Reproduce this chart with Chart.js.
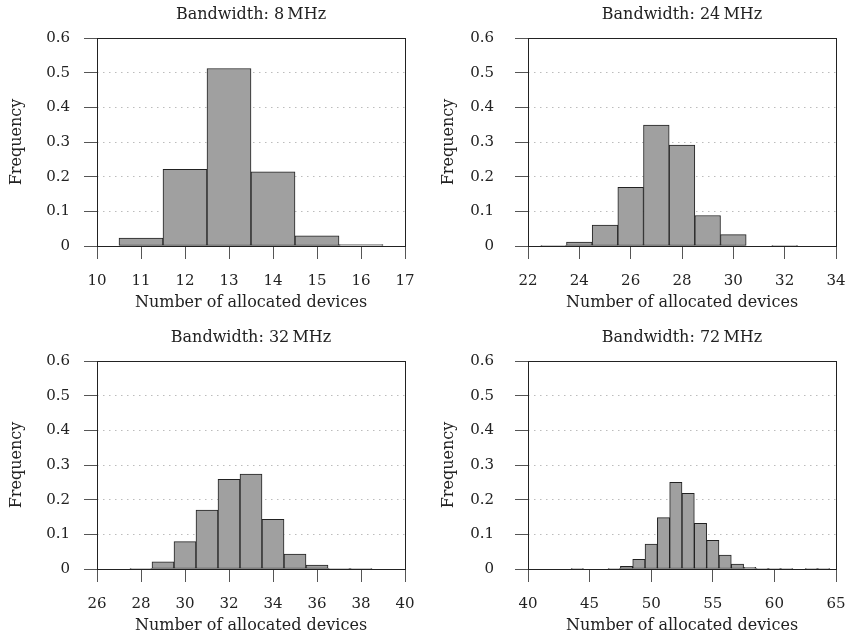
<!DOCTYPE html>
<html>
<head>
<meta charset="utf-8">
<title>Allocated devices per bandwidth</title>
<script src="https://cdn.jsdelivr.net/npm/chart.js@4.4.1/dist/chart.umd.min.js"></script>
<style>
  html, body { margin: 0; padding: 0; background: #fff; }
  #wrap { position: relative; width: 846px; height: 642px; }
  .panel { position: absolute; width: 423px; height: 321px; }
</style>
</head>
<body>
<div id="wrap">
  <div class="panel" style="left:0;top:0"><canvas id="c8" width="423" height="321"></canvas></div>
  <div class="panel" style="left:423px;top:0"><canvas id="c24" width="423" height="321"></canvas></div>
  <div class="panel" style="left:0;top:321px"><canvas id="c32" width="423" height="321"></canvas></div>
  <div class="panel" style="left:423px;top:321px"><canvas id="c72" width="423" height="321"></canvas></div>
</div>
<script>
// ── Data ──────────────────────────────────────────────────────
const bins8  = [11, 12, 13, 14, 15, 16];
const freq8  = [0.023, 0.221, 0.512, 0.214, 0.029, 0.004];
const xTicks8 = [10, 11, 12, 13, 14, 15, 16, 17];

const bins24 = [23, 24, 25, 26, 27, 28, 29, 30, 32];
const freq24 = [0.001, 0.011, 0.060, 0.169, 0.349, 0.291, 0.088, 0.033, 0.001];
const xTicks24 = [22, 24, 26, 28, 30, 32, 34];

const bins32 = [28, 29, 30, 31, 32, 33, 34, 35, 36, 37, 38];
const freq32 = [0.002, 0.021, 0.079, 0.170, 0.259, 0.274, 0.143, 0.043, 0.011, 0.001, 0.001];
const xTicks32 = [26, 28, 30, 32, 34, 36, 38, 40];

const bins72 = [44, 47, 48, 49, 50, 51, 52, 53, 54, 55, 56, 57, 58, 59, 60, 61, 63, 64];
const freq72 = [0.001, 0.002, 0.008, 0.028, 0.072, 0.148, 0.250, 0.218, 0.132, 0.083, 0.040, 0.014, 0.005, 0.001, 0.001, 0.001, 0.001, 0.001];
const xTicks72 = [40, 45, 50, 55, 60, 65];

const yTicks = [0, 0.1, 0.2, 0.3, 0.4, 0.5, 0.6];

const X_TITLE = 'Number of allocated devices';
const Y_TITLE = 'Frequency';

// ── Layout per panel (plot box edges inside each 423x321 canvas) ──
const PANELS = [
  { id: 'c8',  title: 'Bandwidth: 8\u2009MHz',  bins: bins8,  freq: freq8,  xTicks: xTicks8,
    left: 97,  right: 18, top: 38, bottom: 246, titleY: 15,   yTitleX: 17, yPad: 14, xTitleY: 303 },
  { id: 'c24', title: 'Bandwidth: 24\u2009MHz', bins: bins24, freq: freq24, xTicks: xTicks24,
    left: 105, right: 10, top: 38, bottom: 246, titleY: 15,   yTitleX: 26, yPad: 21, xTitleY: 303 },
  { id: 'c32', title: 'Bandwidth: 32\u2009MHz', bins: bins32, freq: freq32, xTicks: xTicks32,
    left: 97,  right: 18, top: 40, bottom: 248, titleY: 17,   yTitleX: 17, yPad: 14, xTitleY: 305 },
  { id: 'c72', title: 'Bandwidth: 72\u2009MHz', bins: bins72, freq: freq72, xTicks: xTicks72,
    left: 105, right: 10, top: 40, bottom: 248, titleY: 17,   yTitleX: 26, yPad: 21, xTitleY: 305 },
];

Chart.defaults.font.family = '"DejaVu Serif", "Liberation Serif", serif';
Chart.defaults.color = '#222';

const INK = '#222';
const TICK = '#555';
const LH = 16 * 1.2;

// draws the closed box round the plot area
const framePlugin = {
  id: 'frame',
  afterDraw(chart) {
    const { ctx, chartArea: a } = chart;
    const l = Math.round(a.left) + 0.5, t = Math.round(a.top) + 0.5;
    const r = Math.round(a.right) + 0.5, b = Math.round(a.bottom) + 0.5;
    ctx.save();
    ctx.strokeStyle = INK;
    ctx.lineWidth = 1;
    ctx.strokeRect(l, t, r - l, b - t);
    ctx.restore();
  }
};

function makeChart(p) {
  const ctx = document.getElementById(p.id).getContext('2d');
  return new Chart(ctx, {
    type: 'bar',
    data: {
      datasets: [{
        data: p.bins.map((b, i) => ({ x: b, y: p.freq[i] })),
        backgroundColor: '#a0a0a0',
        borderColor: INK,
        borderWidth: 1,
        borderSkipped: false,
        barPercentage: 1,
        categoryPercentage: 1,
      }]
    },
    options: {
      responsive: false,
      animation: false,
      layout: { padding: { left: 0, right: p.right, top: 0, bottom: 0 } },
      plugins: {
        legend: { display: false },
        tooltip: { enabled: false },
        title: {
          display: true, text: p.title, fullSize: false, color: INK,
          font: { size: 16, weight: 'normal' },
          padding: { top: p.titleY - LH / 2, bottom: p.top - (p.titleY - LH / 2) - LH },
        },
      },
      scales: {
        x: {
          type: 'linear',
          offset: false,
          min: p.xTicks[0], max: p.xTicks[p.xTicks.length - 1],
          afterBuildTicks: s => { s.ticks = p.xTicks.map(v => ({ value: v })); },
          afterFit: s => { s.height = 321 - p.bottom; s.paddingLeft = 0; s.paddingRight = 0; },
          grid: { offset: false, drawOnChartArea: false, drawTicks: true, tickLength: 13, tickColor: TICK, tickWidth: 1 },
          border: { display: false },
          ticks: { padding: 13, font: { size: 15 }, color: INK, maxRotation: 0, autoSkip: false },
          title: { display: true, text: X_TITLE, color: INK, font: { size: 16 },
                   padding: { top: 0, bottom: 321 - p.xTitleY - LH / 2 } },
        },
        y: {
          min: 0, max: 0.6,
          afterBuildTicks: s => { s.ticks = yTicks.map(v => ({ value: v })); },
          afterFit: s => { s.width = p.left; s.paddingTop = 0; s.paddingBottom = 0; },
          grid: {
            drawOnChartArea: true, tickLength: 13, tickColor: TICK, tickWidth: 1,
            color: c => (c.tick && (c.tick.value === 0 || c.tick.value === 0.6)) ? 'rgba(0,0,0,0)' : '#bcbcbc',
            tickBorderDash: [],
          },
          border: { display: false, dash: [1.5, 4.5] },
          ticks: { padding: p.yPad, font: { size: 15 }, color: INK,
                   callback: v => String(Math.round(v * 10) / 10) },
          title: { display: true, text: Y_TITLE, color: INK, font: { size: 16 },
                   padding: { top: p.yTitleX - LH / 2, bottom: 0 } },
        }
      }
    },
    plugins: [framePlugin]
  });
}

PANELS.forEach(makeChart);
</script>
</body>
</html>
